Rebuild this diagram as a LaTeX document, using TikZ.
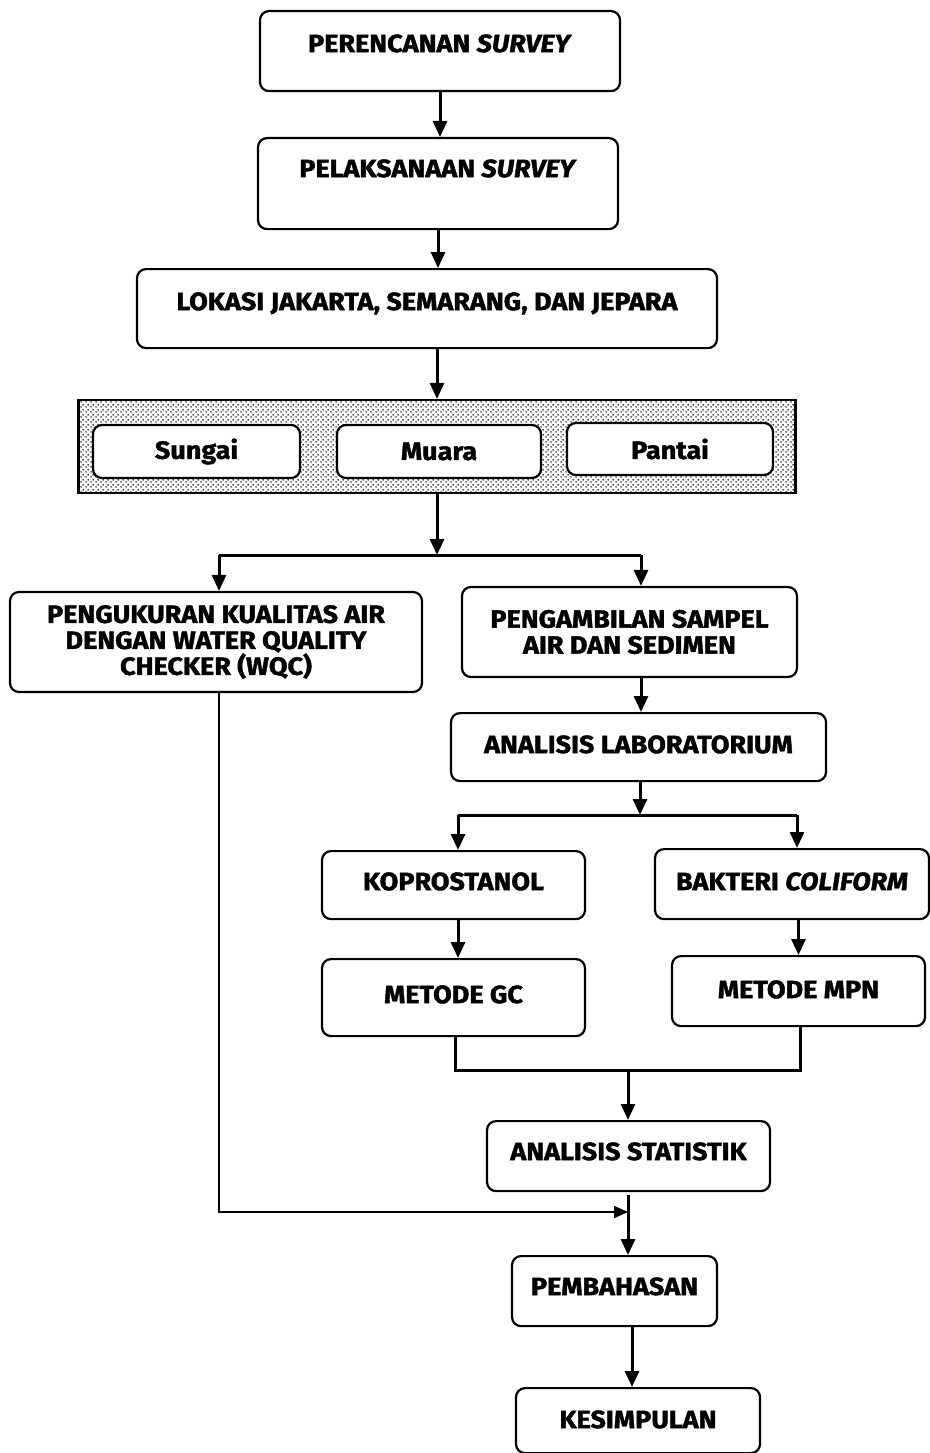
\documentclass[tikz,border=0pt]{standalone}
\usepackage{fontspec}
\setmainfont{Fira Sans}[FakeStretch=1.08, BoldFeatures={FakeBold=1.6}, BoldItalicFeatures={FakeBold=1.6}]
\usetikzlibrary{arrows.meta,patterns.meta,calc}
\tikzdeclarepattern{
  name=sparsedots,
  type=uncolored,
  bounding box={(0pt,0pt) and (5pt,5pt)},
  tile size={(5pt,5pt)},
  code={
    \pgfpathcircle{\pgfqpoint{1.25pt}{1.25pt}}{0.95pt}
    \pgfpathcircle{\pgfqpoint{3.75pt}{3.75pt}}{0.95pt}
    \pgfusepath{fill}
  }
}
\tikzset{
  box/.style={draw, line width=2.2pt, rounded corners=9pt, fill=white,
    font=\fontsize{25pt}{26pt}\selectfont\bfseries, align=center,
    inner xsep=0pt, inner ysep=0pt},
  conn/.style={line width=3pt},
  thinconn/.style={line width=1.8pt},
  arr/.style={conn, -{Triangle[length=16pt,width=14pt]}},
  thinarr/.style={thinconn, -{Triangle[length=14pt,width=12pt]}},
  panelbox/.style={draw, line width=2.2pt, pattern=sparsedots, pattern color=black,
    inner sep=0pt}
}
\begin{document}
\begin{tikzpicture}[x=1pt,y=-1pt]
\useasboundingbox (0,0) rectangle (929,1453);

% main column
\node[box, anchor=north, minimum width=360pt, text height=41pt, text depth=39pt] (b1) at (440,10) {PERENCANAN \textit{SURVEY}};
\node[box, anchor=north, minimum width=360pt, text height=39pt, text depth=52pt] (b2) at (438,137) {PELAKSANAAN \textit{SURVEY}};
\node[box, anchor=north, minimum width=580pt, text height=41pt, text depth=38pt] (b3) at (427,268) {LOKASI JAKARTA, SEMARANG, DAN JEPARA};

% shaded panel
\node[panelbox, minimum width=717pt, minimum height=93pt] (panel) at (437,446.5) {};
\node[box, minimum width=207pt, minimum height=53pt] (sungai) at (196.5,451.5) {Sungai};
\node[box, minimum width=204pt, minimum height=53pt] (muara) at (439,451.5) {Muara};
\node[box, minimum width=206pt, minimum height=52pt] (pantai) at (670,449) {Pantai};

% branch
\node[box, minimum width=412pt, minimum height=100pt] (wqc) at (216,642) {PENGUKURAN KUALITAS AIR\\DENGAN WATER QUALITY\\CHECKER (WQC)};
\node[box, minimum width=335pt, minimum height=90pt] (sampel) at (629.5,632) {PENGAMBILAN SAMPEL\\AIR DAN SEDIMEN};
\node[box, anchor=north, minimum width=375pt, text height=40pt, text depth=28pt] (lab) at (638.5,712) {ANALISIS LABORATORIUM};
\node[box, anchor=north, minimum width=263pt, text height=39pt, text depth=29pt] (kopro) at (453.5,850) {KOPROSTANOL};
\node[box, anchor=north, minimum width=274pt, text height=41pt, text depth=29pt] (bakteri) at (792,848) {BAKTERI \textit{COLIFORM}};
\node[box, anchor=north, minimum width=263pt, text height=44pt, text depth=33pt] (gc) at (453.5,958) {METODE GC};
\node[box, anchor=north, minimum width=253pt, text height=42pt, text depth=28pt] (mpn) at (798.5,955) {METODE MPN};
\node[box, anchor=north, minimum width=283pt, text height=39pt, text depth=31pt] (stat) at (628.5,1120) {ANALISIS STATISTIK};
\node[box, anchor=north, minimum width=205pt, text height=39pt, text depth=31pt] (pemb) at (614.5,1255) {PEMBAHASAN};
\node[box, anchor=north, minimum width=244pt, text height=40pt, text depth=25pt] (kes) at (638,1387) {KESIMPULAN};

% junction coordinates
\coordinate (j1) at (437,555);
\coordinate (jl) at (219,555);
\coordinate (jr) at (641,555);
\coordinate (j2) at (640,815);
\coordinate (j2l) at (458,815);
\coordinate (j2r) at (797,815);
\coordinate (m1) at (455,1070);
\coordinate (m2) at (800,1070);
\coordinate (m3) at (628,1070);
\coordinate (w1) at (219,1212);
\coordinate (w2) at (628,1212);
\coordinate (k1) at (632,1300);

% connectors
\draw[arr] (b1.south) -- (b1.south |- b2.north);
\draw[arr] (b2.south) -- (b2.south |- b3.north);
\draw[arr] (panel.north |- b3.south) -- (panel.north);
\draw[arr] (panel.south) -- (j1);
\draw[conn] (jl) -- (jr);
\draw[arr] (jl) -- (jl |- wqc.north);
\draw[arr] (jr) -- (jr |- sampel.north);
\draw[arr] (jr |- sampel.south) -- (jr |- lab.north);
\draw[arr] (j2 |- lab.south) -- (j2);
\draw[conn] (j2l) -- (j2r);
\draw[arr] (j2l) -- (j2l |- kopro.north);
\draw[arr] (j2r) -- (j2r |- bakteri.north);
\draw[arr] (j2l |- kopro.south) -- (j2l |- gc.north);
\draw[arr] (mpn.north |- bakteri.south) -- (mpn.north);
\draw[conn] (m1 |- gc.south) -- (m1) -- (m2) -- (m2 |- mpn.south);
\draw[arr] (m3) -- (m3 |- stat.north);
\draw[thinarr] (w1 |- wqc.south) -- (w1) -- (w2);
\draw[arr, shorten <=3pt] (m3 |- stat.south) -- (m3 |- pemb.north);
\draw[arr] (k1 |- pemb.south) -- (k1 |- kes.north);
\end{tikzpicture}
\end{document}
